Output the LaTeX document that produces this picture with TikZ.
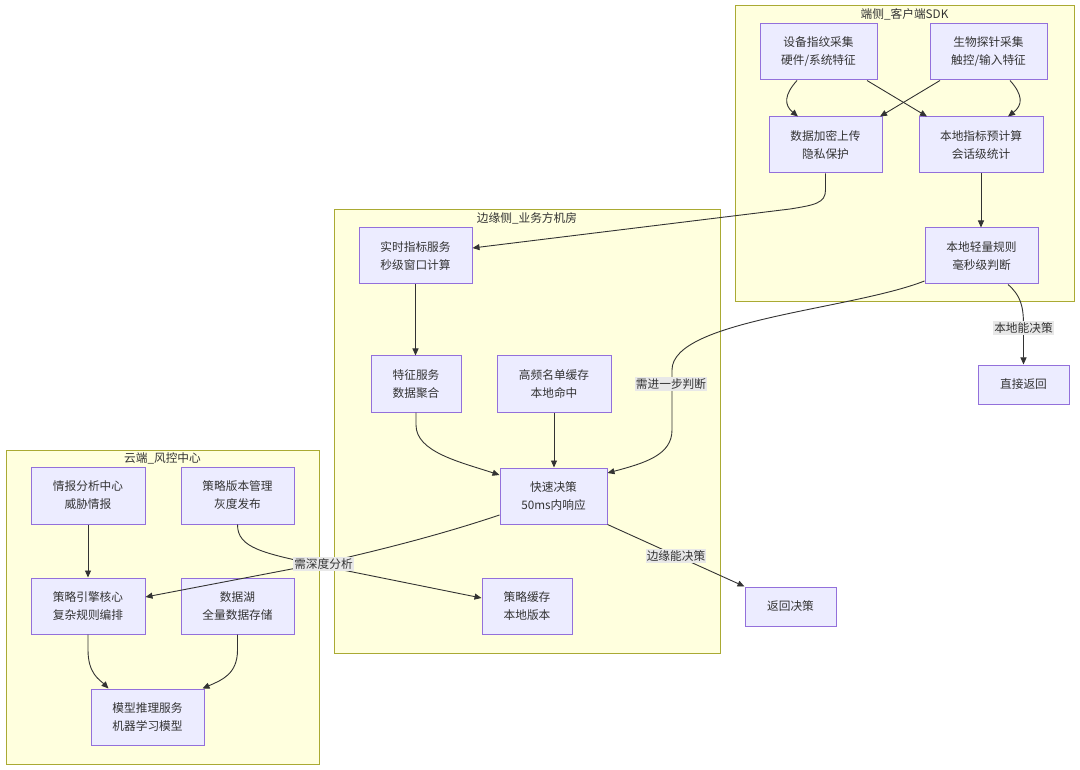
\documentclass[tikz,border=0pt]{standalone}
\usepackage{fontspec}
\setmainfont{Noto Sans CJK SC}
\usetikzlibrary{arrows.meta}
\definecolor{nodefill}{HTML}{ECECFF}
\definecolor{nodeline}{HTML}{9370DB}
\definecolor{clfill}{HTML}{FFFFDE}
\definecolor{clline}{HTML}{AAAA33}
\definecolor{txt}{HTML}{333333}
\definecolor{lblbg}{HTML}{E8E8E8}
\tikzset{
  box/.style={draw=nodeline, fill=nodefill, line width=1pt, align=center, inner sep=0pt,
    text=txt, font=\fontsize{11.7}{18}\selectfont},
  cluster/.style={draw=clline, fill=clfill, line width=1pt, inner sep=0pt},
  cltitle/.style={text=txt, font=\fontsize{11.7}{14}\selectfont, inner sep=0pt},
  edge/.style={draw=txt, line width=0.9pt, -{Triangle[length=7pt,width=6pt]}},
  elabel/.style={fill=lblbg, text=txt, font=\fontsize{11.7}{14}\selectfont, inner xsep=1pt, inner ysep=2pt}
}
\begin{document}
\begin{tikzpicture}[x=1pt,y=-1pt]
\useasboundingbox (0,0) rectangle (1080,770);
\fill[white] (0,0) rectangle (1080,770);
% clusters
\node[cluster, minimum width=339, minimum height=296] (c1) at (904.5,154) {};
\node[cltitle, anchor=center] (t1) at (904.5,14) {端侧\_客户端SDK};
\node[cluster, minimum width=386, minimum height=443] (c2) at (527,431.5) {};
\node[cltitle, anchor=center] (t2) at (527,218) {边缘侧\_业务方机房};
\node[cluster, minimum width=313, minimum height=314] (c3) at (162.5,607) {};
\node[cltitle, anchor=center] (t3) at (162.5,458) {云端\_风控中心};
% nodes
\node[box, minimum width=117, minimum height=56] (dev) at (818.5,52) {设备指纹采集\\硬件/系统特征};
\node[box, minimum width=117, minimum height=56] (bio) at (988.5,52) {生物探针采集\\触控/输入特征};
\node[box, minimum width=113, minimum height=56] (enc) at (825.5,145) {数据加密上传\\隐私保护};
\node[box, minimum width=124, minimum height=56] (pre) at (981,145) {本地指标预计算\\会话级统计};
\node[box, minimum width=113, minimum height=56] (rule) at (981.5,256) {本地轻量规则\\毫秒级判断};
\node[box, minimum width=91, minimum height=39] (direct) at (1023.5,384.5) {直接返回};
\node[box, minimum width=113, minimum height=56] (rt) at (415.5,256) {实时指标服务\\秒级窗口计算};
\node[box, minimum width=90, minimum height=56] (feat) at (416,384) {特征服务\\数据聚合};
\node[box, minimum width=114, minimum height=56] (hot) at (554,384) {高频名单缓存\\本地命中};
\node[box, minimum width=107, minimum height=56] (fast) at (553.5,496) {快速决策\\50ms内响应};
\node[box, minimum width=90, minimum height=56] (sc) at (527,606) {策略缓存\\本地版本};
\node[box, minimum width=91, minimum height=39] (ret) at (790.5,606.5) {返回决策};
\node[box, minimum width=114, minimum height=57] (intel) at (88,495.5) {情报分析中心\\威胁情报};
\node[box, minimum width=113, minimum height=57] (ver) at (237.5,495.5) {策略版本管理\\灰度发布};
\node[box, minimum width=114, minimum height=56] (eng) at (88,606) {策略引擎核心\\复杂规则编排};
\node[box, minimum width=113, minimum height=56] (lake) at (237.5,606) {数据湖\\全量数据存储};
\node[box, minimum width=113, minimum height=56] (model) at (147.5,717) {模型推理服务\\机器学习模型};
% edges
\draw[edge] ([xshift=-21.5]dev.south) .. controls (784,95) and (784,105) .. ([xshift=-27.5]enc.north);
\draw[edge] ([xshift=48.5]dev.south) -- ([xshift=-54]pre.north);
\draw[edge] ([xshift=-48.5]bio.south) -- ([xshift=54.5]enc.north);
\draw[edge] ([xshift=21.5]bio.south) .. controls (1023,95) and (1023,105) .. ([xshift=27]pre.north);
\draw[edge] (pre.south) -- (pre.south |- rule.north);
\draw[edge] (enc.south) -- (825.5,190) .. controls (825.5,203) and (815,205) .. (790,209) -- ([yshift=8]rt.east);
\draw[edge] ([xshift=26.5]rule.south) .. controls (1020,295) and (1023.5,305) .. (1023.5,325) -- (direct.north);
\node[elabel] (l1) at (1023.5,328) {本地能决策};
\draw[edge] ([yshift=-25]rule.west) .. controls (850,310) and (672,320) .. (672,370) -- (672,430) .. controls (672,455) and (645,463) .. ([yshift=23]fast.east);
\node[elabel] (l2) at (671,384) {需进一步判断};
\draw[edge] (rt.south) -- (rt.south |- feat.north);
\draw[edge] (feat.south) -- (416,425) .. controls (416,452) and (460,462) .. ([yshift=21]fast.west);
\draw[edge] (hot.south) -- (hot.south |- fast.north);
\draw[edge] ([yshift=-19]fast.west) .. controls (440,535) and (380,550) .. (323,563) -- ([yshift=9]eng.east);
\draw[edge] (ver.south) .. controls (237.5,548) and (262,553) .. (323,566) -- ([yshift=8]sc.west);
\node[elabel] (l3) at (323.5,564) {需深度分析};
\draw[edge] (fast.south east) -- (ret.north west);
\node[elabel] (l4) at (676,556) {边缘能决策};
\draw[edge] (intel.south) -- (intel.south |- eng.north);
\draw[edge] (eng.south) -- (88,650) .. controls (88,674) and (100,680) .. ([xshift=-39]model.north);
\draw[edge] (lake.south) -- (237.5,650) .. controls (237.5,674) and (222,680) .. ([xshift=55]model.north);
\end{tikzpicture}
\end{document}
